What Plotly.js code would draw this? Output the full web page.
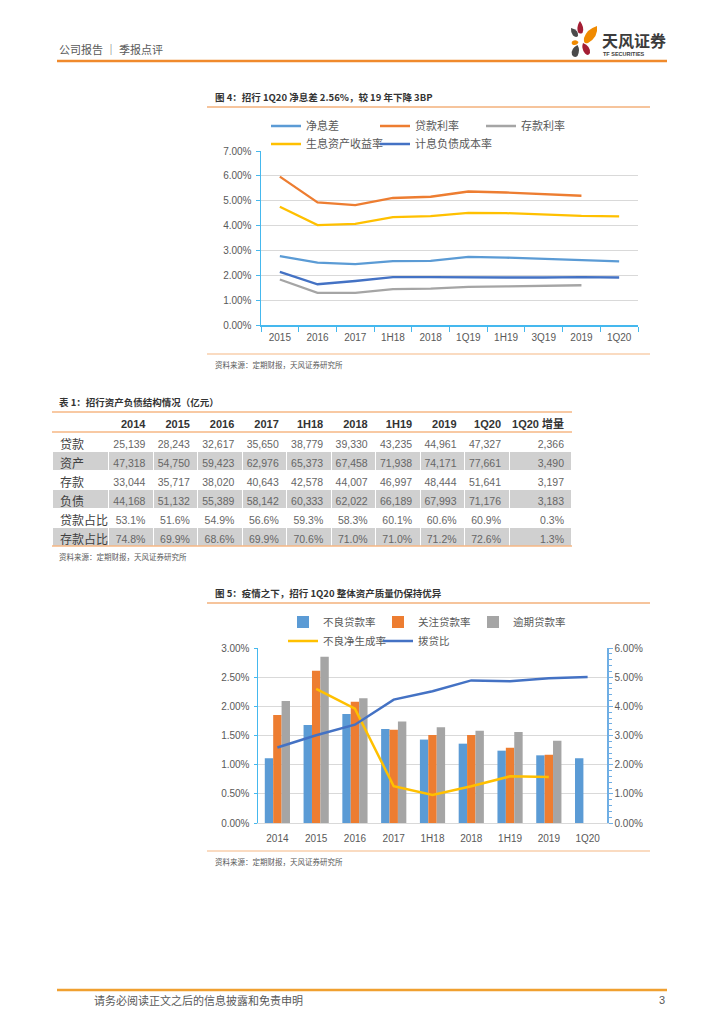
<!DOCTYPE html>
<html>
<head>
<meta charset="utf-8">
<script src="https://cdn.plot.ly/plotly-3.0.1.min.js"></script>
<style>
html,body{margin:0;padding:0;background:#fff;}
#page{width:724px;height:1024px;}
</style>
</head>
<body>
<div id="page"></div>
<script>
// ---------------- DATA ----------------
// Figure 4
const c1 = ['2015','2016','2017','1H18','2018','1Q19','1H19','3Q19','2019','1Q20'];
const nim       = [2.77, 2.51, 2.45, 2.57, 2.58, 2.74, 2.71, 2.66, 2.59, 2.56];
const loanRate  = [5.97, 4.93, 4.82, 5.11, 5.16, 5.37, 5.33, 5.27, 5.20, null];
const depRate   = [1.83, 1.29, 1.29, 1.44, 1.46, 1.53, 1.55, 1.57, 1.60, null];
const yieldRate = [4.76, 4.02, 4.07, 4.34, 4.38, 4.51, 4.50, 4.45, 4.39, 4.37];
const costRate  = [2.14, 1.64, 1.77, 1.93, 1.93, 1.91, 1.91, 1.91, 1.93, 1.91];

// Table 1
const tableHeader = ['', '2014','2015','2016','2017','1H18','2018','1H19','2019','1Q20','1Q20 增量'];
const rowLabels = ['贷款','资产','存款','负债','贷款占比','存款占比'];
const loans       = [25139, 28243, 32617, 35650, 38779, 39330, 43235, 44961, 47327, 2366];
const assets      = [47318, 54750, 59423, 62976, 65373, 67458, 71938, 74171, 77661, 3490];
const deposits    = [33044, 35717, 38020, 40643, 42578, 44007, 46997, 48444, 51641, 3197];
const liabilities = [44168, 51132, 55389, 58142, 60333, 62022, 66189, 67993, 71176, 3183];
const loanShare   = [53.1, 51.6, 54.9, 56.6, 59.3, 58.3, 60.1, 60.6, 60.9, 0.3];
const depShare    = [74.8, 69.9, 68.6, 69.9, 70.6, 71.0, 71.0, 71.2, 72.6, 1.3];

// Figure 5
const c2 = ['2014','2015','2016','2017','1H18','2018','1H19','2019','1Q20'];
const nplRatio   = [1.11, 1.68, 1.87, 1.61, 1.43, 1.36, 1.24, 1.16, 1.11];
const specialRt  = [1.85, 2.61, 2.08, 1.60, 1.51, 1.51, 1.29, 1.17, null];
const overdueRt  = [2.09, 2.85, 2.14, 1.74, 1.64, 1.58, 1.56, 1.41, null];
const nplForm    = [null, 2.30, 1.96, 0.63, 0.48, 0.63, 0.80, 0.79, null];
const provLoan   = [2.59, 3.01, 3.37, 4.23, 4.52, 4.89, 4.86, 4.96, 5.01];

// ---------------- LAYOUT HELPERS ----------------
const W = 724, H = 1024;
const X = p => p / W;
const Y = p => 1 - p / H;
const CJK = "'Noto Sans CJK SC', 'Liberation Sans', sans-serif";
const NUM = "'Liberation Sans', 'Noto Sans CJK SC', sans-serif";
const gray = '#595959';
const axisBlue = '#45B8EE';
const axisBlue2 = '#6FAEE4';
const gridC = '#D9D9D9';
const orange = '#EE8A3A';
const orangeLt = '#F6B784';

const annotations = [];
function txt(text, x, y, size, color, family, anchor) {
  annotations.push({text, x: X(x), y: Y(y), xref: 'paper', yref: 'paper',
    xanchor: anchor || 'left', yanchor: 'middle', showarrow: false,
    font: {size, color, family: family || CJK}});
}
const shapes = [];
function hline(x0, x1, y, color, width) {
  shapes.push({type: 'line', xref: 'paper', yref: 'paper', x0: X(x0), x1: X(x1),
    y0: Y(y), y1: Y(y), line: {color, width}});
}
function petal(pts, color) {
  const path = pts.replace(/(-?\d+(\.\d+)?),(-?\d+(\.\d+)?)/g,
    (m, a, b, c) => X(+a).toFixed(5) + ',' + Y(+c).toFixed(5));
  shapes.push({type: 'path', xref: 'paper', yref: 'paper', path,
    fillcolor: color, line: {width: 0}});
}

// header
txt('公司报告 ｜ 季报点评', 57, 49, 11, gray);
hline(57, 667, 61, '#F08A2C', 2.5);
// logo
petal('M580,21 Q585,28 582.5,33 Q578,35 577.5,30 Q577,25 580,21 Z', '#A41E34');
petal('M597,26 Q598.5,37 588,43 Q583,44.5 584,38 Q587,29 597,26 Z', '#F08A00');
petal('M571,28 Q579,30 578,36 Q576,38 573,35.5 Q570.5,32 571,28 Z', '#4A4A4A');
petal('M572,41.5 Q576,39 578.5,42 Q577.5,45.5 573.5,45 Q571,44.5 572,41.5 Z', '#F08A00');
petal('M577.5,45 Q580.5,50 577.5,56 Q574.5,58.5 572,55 Q570,49 577.5,45 Z', '#4A4A4A');
petal('M583,43 Q590.5,46 590,53 Q588,56.5 585,53.5 Q581,48.5 583,43 Z', '#A41E34');
txt('<b>天风证券</b>', 600, 40, 16, '#3C3C3C');
txt('<b>TF SECURITIES</b>', 601, 53.5, 5.5, '#3C3C3C', NUM);

// figure 4 frame
txt('<b>图 4：招行 1Q20 净息差 2.56%，较 19 年下降 3BP</b>', 213, 97, 9.5, '#333333');
hline(207, 650, 107, orange, 1.2);
hline(207, 650, 354, orangeLt, 1.2);
txt('资料来源：定期财报，天风证券研究所', 213, 364, 7.5, gray);

// table frame
txt('<b>表 1：招行资产负债结构情况（亿元）</b>', 57, 402, 9.5, '#333333');
txt('资料来源：定期财报，天风证券研究所', 57, 556, 7.5, gray);

// figure 5 frame
txt('<b>图 5：疫情之下，招行 1Q20 整体资产质量仍保持优异</b>', 213, 593, 9.5, '#333333');
hline(207, 650, 603, orange, 1.2);
hline(207, 650, 851, orangeLt, 1.2);
txt('资料来源：定期财报，天风证券研究所', 213, 861, 7.5, gray);

// footer
hline(57, 667, 990, '#F0A030', 2.5);
txt('请务必阅读正文之后的信息披露和免责申明', 92, 1000, 11, gray);
txt('3', 667, 1000, 11, gray, NUM, 'right');

// ---------------- TRACES ----------------
const traces = [];
function line1(name, y, color, legend) {
  traces.push({type: 'scatter', mode: 'lines', name, x: c1, y, xaxis: 'x', yaxis: 'y',
    line: {color, width: 2.3}, legend, connectgaps: false, hoverinfo: 'skip'});
}
line1('净息差', nim, '#5B9BD5', 'legend');
line1('贷款利率', loanRate, '#ED7D31', 'legend2');
line1('存款利率', depRate, '#A5A5A5', 'legend3');
line1('生息资产收益率', yieldRate, '#FFC000', 'legend4');
line1('计息负债成本率', costRate, '#4472C4', 'legend5');

// table
const fmtInt = v => v.toLocaleString('en-US');
const fmtPct = v => v.toFixed(1) + '%';
const rowsData = [loans.map(fmtInt), assets.map(fmtInt), deposits.map(fmtInt),
  liabilities.map(fmtInt), loanShare.map(fmtPct), depShare.map(fmtPct)];
const cellCols = [rowLabels];
for (let j = 0; j < tableHeader.length - 1; j++) cellCols.push(rowsData.map(r => r[j]));
const rowFill = rowLabels.map((_, i) => i % 2 === 1 ? '#D0D0D0' : '#FFFFFF');
const colWidths = [57].concat(Array(9).fill(44.45)).concat([63]);
traces.push({
  type: 'table',
  domain: {x: [X(52), X(572)], y: [Y(546), Y(412)]},
  columnwidth: colWidths,
  header: {
    values: tableHeader.map(h => h.replace(/ /g, '\u00a0')),
    align: ['left'].concat(Array(10).fill('right')),
    height: 20,
    fill: {color: '#FFFFFF'},
    line: {color: '#FFFFFF', width: 1},
    font: {family: NUM, size: 11, color: '#333333', weight: 'bold'}
  },
  cells: {
    values: cellCols,
    align: ['left'].concat(Array(10).fill('right')),
    height: 19,
    fill: {color: cellCols.map(() => rowFill)},
    line: {color: '#FFFFFF', width: 1},
    font: {family: [CJK].concat(Array(10).fill(NUM)),
           size: [12].concat(Array(10).fill(10.5)),
           color: ['#404040'].concat(Array(10).fill('#666666'))}
  }
});
// table rules
hline(52, 572, 412, orangeLt, 1.5);
hline(52, 572, 432, orangeLt, 1.5);
hline(52, 572, 546, orangeLt, 1.5);

// figure 5
function bar2(name, y, color, legend) {
  traces.push({type: 'bar', name, x: c2, y, xaxis: 'x2', yaxis: 'y2',
    marker: {color, line: {width: 0}}, legend, hoverinfo: 'skip'});
}
bar2('不良贷款率', nplRatio, '#5B9BD5', 'legend6');
bar2('关注贷款率', specialRt, '#ED7D31', 'legend7');
bar2('逾期贷款率', overdueRt, '#A5A5A5', 'legend8');
traces.push({type: 'scatter', mode: 'lines', name: '不良净生成率', x: c2, y: nplForm,
  xaxis: 'x2', yaxis: 'y2', line: {color: '#FFC000', width: 2.5}, legend: 'legend9', hoverinfo: 'skip'});
traces.push({type: 'scatter', mode: 'lines', name: '拨贷比', x: c2, y: provLoan,
  xaxis: 'x2', yaxis: 'y3', line: {color: '#4472C4', width: 2.5}, legend: 'legend10', hoverinfo: 'skip'});

// ---------------- LAYOUT ----------------
function leg(x, y, size) {
  return {orientation: 'h', x: X(x), y: Y(y), xanchor: 'left', yanchor: 'middle',
    bgcolor: 'rgba(0,0,0,0)', borderwidth: 0, font: {size: size || 11, color: gray, family: CJK},
    itemwidth: 30, tracegroupgap: 0, itemclick: false, itemdoubleclick: false};
}
const tickF = {family: NUM, size: 10, color: gray};
const layout = {
  width: W, height: H,
  margin: {l: 0, r: 0, t: 0, b: 0, pad: 0},
  paper_bgcolor: '#FFFFFF', plot_bgcolor: 'rgba(0,0,0,0)',
  font: {family: CJK, color: gray},
  showlegend: true,
  legend:  leg(266, 126),
  legend2: leg(375, 126),
  legend3: leg(481, 126),
  legend4: leg(266, 144),
  legend5: leg(375, 144),
  legend6: leg(283, 622, 10.5),
  legend7: leg(378, 622, 10.5),
  legend8: leg(473, 622, 10.5),
  legend9: leg(283, 641, 10.5),
  legend10: leg(378, 641, 10.5),
  barmode: 'group', bargap: 0.35, bargroupgap: 0,
  xaxis: {domain: [X(261), X(638)], anchor: 'y', type: 'category', categoryorder: 'array', categoryarray: c1,
    range: [-0.5, c1.length - 0.5],
    showline: true, linecolor: axisBlue, linewidth: 1.5, ticks: 'outside', tickson: 'boundaries',
    ticklen: 5, tickcolor: axisBlue, tickwidth: 1, showgrid: false, tickfont: tickF, ticklabelstandoff: 2,
    fixedrange: true},
  yaxis: {domain: [Y(325), Y(151)], anchor: 'x', range: [0, 7], dtick: 1, tickformat: '.2f', ticksuffix: '%',
    showline: true, linecolor: axisBlue, linewidth: 1.5, ticks: 'outside', ticklen: 4, tickcolor: axisBlue,
    gridcolor: gridC, gridwidth: 1, zeroline: false, tickfont: tickF, ticklabelstandoff: 2, fixedrange: true},
  xaxis2: {domain: [X(258), X(607)], anchor: 'y2', type: 'category', categoryorder: 'array', categoryarray: c2,
    range: [-0.5, c2.length - 0.5],
    showline: true, linecolor: gridC, linewidth: 1, ticks: '', showgrid: false, tickfont: tickF,
    ticklabelstandoff: 6, fixedrange: true},
  yaxis2: {domain: [Y(823), Y(648)], anchor: 'x2', range: [0, 3], dtick: 0.5, tickformat: '.2f', ticksuffix: '%',
    showline: true, linecolor: axisBlue, linewidth: 1.5, ticks: 'outside', ticklen: 3, tickcolor: axisBlue,
    gridcolor: gridC, gridwidth: 1, zeroline: false, tickfont: tickF, ticklabelstandoff: 2, fixedrange: true},
  yaxis3: {overlaying: 'y2', side: 'right', anchor: 'x2', range: [0, 6], dtick: 1, tickformat: '.2f', ticksuffix: '%',
    showline: true, linecolor: axisBlue2, linewidth: 1.5, ticks: 'outside', ticklen: 4, tickcolor: axisBlue2,
    minor: {dtick: 0.2, ticks: 'outside', ticklen: 3, tickcolor: axisBlue2, showgrid: false},
    showgrid: false, zeroline: false, tickfont: tickF, fixedrange: true},
  annotations, shapes
};
Plotly.newPlot('page', traces, layout, {staticPlot: true, displayModeBar: false});
</script>
</body>
</html>
